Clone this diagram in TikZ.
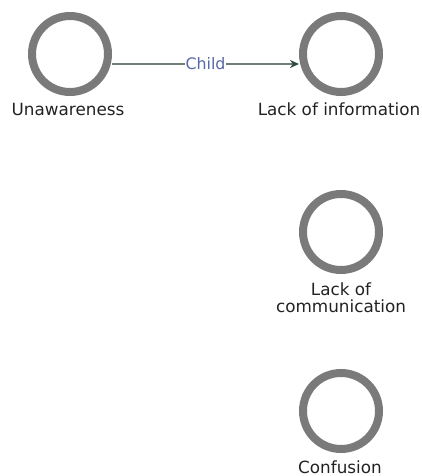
\documentclass[tikz,border=0pt]{standalone}
\usepackage{fontspec}
\setmainfont{DejaVu Sans}
\usetikzlibrary{arrows.meta}
\definecolor{ringgray}{HTML}{7A7A7A}
\definecolor{linkgray}{HTML}{6F7D79}
\definecolor{tipdark}{HTML}{2F4A44}
\definecolor{childblue}{HTML}{5568A8}
\definecolor{labeltext}{HTML}{222222}
\tikzset{
  ring/.style={circle, draw=ringgray, line width=8pt, minimum size=76pt, inner sep=0pt},
  lbl/.style={anchor=base, text=labeltext, font=\fontsize{16.8}{17}\selectfont, inner sep=0pt, align=center},
  link/.style={draw=linkgray, line width=1.6pt, -{Stealth[length=9pt,width=8pt,color=tipdark]}},
  linklbl/.style={fill=white, text=childblue, font=\fontsize{15.8}{17}\selectfont, inner sep=1pt}
}
\begin{document}
\begin{tikzpicture}[x=1pt,y=-1pt]
\useasboundingbox (0,0) rectangle (422,476);
\node[ring] (c1) at (70,54) {};
\node[ring] (c2) at (341,54) {};
\node[ring] (c3) at (341,232) {};
\node[ring] (c4) at (341,411) {};
\node[lbl] (l1) at (68,115) {Unawareness};
\node[lbl] (l2) at (339,115) {Lack of information};
\node[lbl] (l3) at (341,312) {Lack of\\communication};
\node[lbl] (l4) at (340,473) {Confusion};
\draw[link] ([yshift=-10pt]c1.east) -- node[linklbl] (child) {Child} ([yshift=-10pt]c2.west);
\end{tikzpicture}
\end{document}
